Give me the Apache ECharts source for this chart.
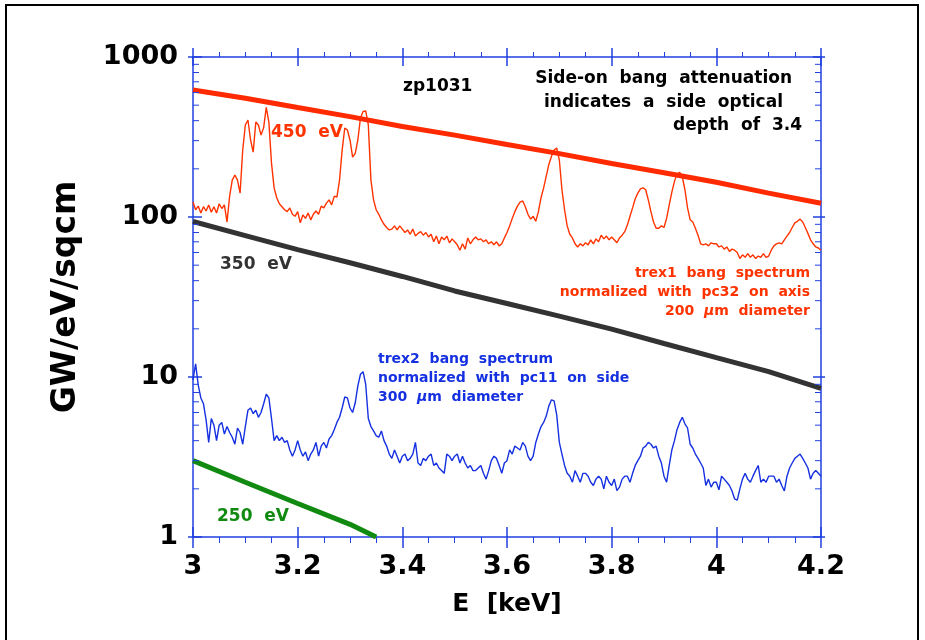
<!DOCTYPE html>
<html><head><meta charset="utf-8">
<script src="https://cdn.jsdelivr.net/npm/echarts@6/dist/echarts.min.js"></script>
<style>html,body{margin:0;padding:0;background:#fff}#c{width:925px;height:640px}</style>
</head><body><div id="c"></div>
<script>
// ---- axes ----
const X_MIN = 3, X_MAX = 4.2, X_INTERVAL = 0.2;
const Y_MIN = 1, Y_MAX = 1000;
const yMinorTicks = [2,3,4,5,6,7,8,9,20,30,40,50,60,70,80,90,200,300,400,500,600,700,800,900];

// ---- measured spectra (energy grid start/step in keV) ----
const specStart = 3.0, specStep = 0.005;
// trex1 bang spectrum, normalized with pc32 on axis (rows of 10 = 0.05 keV)
const trex1 = [
 124,111,117,106,116,109,119,107,116,106,
 121,113,119,93,135,170,183,170,141,262,
 376,404,303,254,392,376,325,362,485,392,
 217,152,132,121,116,111,108,114,104,101,
 108,92,103,98,106,96,104,109,104,117,
 114,122,128,119,135,133,170,262,360,350,
 303,237,250,303,416,457,460,376,170,128,
 111,104,96,90,86,83,84,88,83,88,
 84,80,83,78,84,76,79,81,77,80,
 75,78,70,76,68,75,72,76,69,73,
 70,67,62,68,63,74,68,72,75,72,
 73,70,72,68,70,67,70,66,68,74,
 80,88,98,108,117,124,126,116,104,97,
 101,94,108,132,152,180,213,240,262,270,
 227,148,111,88,78,74,68,65,68,66,
 69,67,72,68,73,70,77,73,76,72,
 75,72,69,74,77,81,89,101,114,130,
 141,150,152,148,128,108,93,85,85,88,
 86,98,119,143,167,186,190,178,148,114,
 96,93,85,77,68,67,68,66,69,68,
 68,65,66,63,65,61,63,62,60,55,
 58,56,59,56,58,55,57,56,59,56,
 57,62,66,68,69,68,72,76,80,86,
 92,94,97,93,86,79,72,68,65,64,
 62
];
// trex2 bang spectrum, normalized with pc11 on side
const trex2 = [
 9.6,12.1,8.9,7.4,6.8,5.4,3.9,5.5,5.0,4.0,
 5.0,5.2,4.4,4.9,4.5,4.2,3.8,4.8,4.5,3.8,
 4.9,6.2,6.4,5.9,6.2,5.6,6.0,6.8,7.8,7.4,
 5.5,4.0,4.3,4.0,4.2,3.9,4.0,3.5,3.2,3.5,
 4.0,3.5,3.2,3.4,3.0,3.3,3.5,3.9,3.2,3.7,
 3.9,3.6,4.1,4.3,4.7,5.2,5.6,6.4,7.5,7.4,
 6.4,6.0,6.9,8.8,10.4,10.8,9.0,5.5,4.9,4.6,
 4.3,4.2,4.6,4.0,3.7,3.3,3.1,3.5,3.2,2.9,
 3.2,3.3,3.0,3.1,3.3,3.9,2.9,2.8,3.1,3.0,
 3.2,3.3,2.8,2.9,2.7,2.6,2.5,3.3,3.2,3.0,
 3.2,3.3,2.9,3.2,2.9,2.7,2.8,2.6,2.6,2.7,
 2.8,2.5,2.3,2.6,3.0,3.2,3.1,2.8,2.5,2.9,
 3.0,3.5,3.3,3.7,3.6,3.5,3.9,3.7,3.2,3.0,
 3.2,3.9,4.4,4.9,5.2,5.7,6.6,7.2,7.1,5.8,
 3.9,3.3,2.8,2.5,2.4,2.2,2.6,2.4,2.2,2.5,
 2.5,2.4,2.2,2.1,2.3,2.4,2.3,2.0,2.4,2.2,
 2.1,2.3,1.95,2.05,2.3,2.4,2.4,2.2,2.5,2.8,
 3.0,3.2,3.6,3.7,3.9,3.8,3.6,3.7,3.2,2.9,
 2.4,2.2,2.8,3.5,4.0,4.7,5.2,5.6,5.1,4.8,
 3.8,3.6,3.3,3.1,2.9,2.7,2.1,2.3,2.05,2.2,
 2.2,1.97,2.4,2.3,2.2,2.1,1.94,1.73,1.70,2.0,
 2.3,2.5,2.3,2.2,2.4,2.6,2.8,2.2,2.3,2.2,
 2.4,2.4,2.4,2.2,2.3,2.1,1.94,2.4,2.7,2.9,
 3.1,3.2,3.3,3.1,2.9,2.7,2.3,2.5,2.6,2.5,
 2.4
];

// ---- Planckian model curves ----
const modelE = [3.0,3.1,3.2,3.3,3.4,3.5,3.6,3.7,3.8,3.9,4.0,4.1,4.2];
const model450 = [622,553,484,424,368,325,284,249,216,189,165,141,122];
const model350 = [93.7,76.5,62.5,51.8,42.5,34.5,28.8,24,19.9,16.2,13.2,10.8,8.5];
const model250E = [3.0,3.1,3.2,3.3,3.35];
const model250 = [3.0,2.2,1.62,1.2,1.0];

// ---- styling ----
const AXIS_BLUE = '#2040e0';
const RED = '#ff3300';
const BLUE = '#1530e0';
const GRAY = '#333333';
const GREEN = '#118a11';
const FF = '"DejaVu Sans", Verdana, sans-serif';

const specPairs = arr => arr.map((v, i) => [+(specStart + i * specStep).toFixed(3), v]);
const zip = (xs, ys) => xs.map((x, i) => [x, ys[i]]);

const baseX = {type:'value', min:X_MIN, max:X_MAX, interval:X_INTERVAL, splitLine:{show:false}};
const baseY = {type:'log', logBase:10, min:Y_MIN, max:Y_MAX, splitLine:{show:false}};

const chart = echarts.init(document.getElementById('c'), null, {renderer:'canvas'});
const ann = (text, x, y, fill, font, align) => ({
  type:'text', x, y, z:100,
  style:{text, fill, font, textAlign:align || 'left', textVerticalAlign:'middle'}
});
const ANN_FONT = 'bold 17px ' + FF;
const SMALL_FONT = 'bold 14px ' + FF;

chart.setOption({
  animation:false,
  backgroundColor:'#ffffff',
  grid:{left:193, right:104, top:57, bottom:103, containLabel:false},
  xAxis:[
    Object.assign({}, baseX, {position:'bottom',
      name:'E  [keV]', nameLocation:'middle', nameGap:55,
      nameTextStyle:{fontFamily:FF, fontSize:25, fontWeight:'bold', color:'#000'},
      axisLine:{show:true, lineStyle:{color:AXIS_BLUE, width:1.5}},
      axisTick:{show:true, inside:false, length:11, lineStyle:{color:AXIS_BLUE, width:1.5}},
      minorTick:{show:true, splitNumber:4, length:6, lineStyle:{color:AXIS_BLUE, width:1}},
      axisLabel:{show:true, margin:16, fontFamily:FF, fontSize:27, fontWeight:'bold', color:'#000'}}),
    Object.assign({}, baseX, {position:'bottom',
      axisLine:{show:false}, axisLabel:{show:false},
      axisTick:{show:true, inside:true, length:10, lineStyle:{color:AXIS_BLUE, width:1.5}}}),
    Object.assign({}, baseX, {position:'top',
      axisLine:{show:true, lineStyle:{color:AXIS_BLUE, width:1.5}}, axisLabel:{show:false},
      axisTick:{show:true, inside:false, length:9, lineStyle:{color:AXIS_BLUE, width:1.5}},
      minorTick:{show:true, splitNumber:4, length:5, lineStyle:{color:AXIS_BLUE, width:1}}}),
    Object.assign({}, baseX, {position:'top',
      axisLine:{show:false}, axisLabel:{show:false},
      axisTick:{show:true, inside:true, length:9, lineStyle:{color:AXIS_BLUE, width:1.5}}})
  ],
  yAxis:[
    Object.assign({}, baseY, {position:'left',
      name:'GW/eV/sqcm', nameLocation:'middle', nameGap:110, nameRotate:90,
      nameTextStyle:{fontFamily:FF, fontSize:33, fontWeight:'bold', color:'#000'},
      axisLine:{show:true, lineStyle:{color:AXIS_BLUE, width:1.5}},
      axisTick:{show:true, inside:false, length:5, lineStyle:{color:AXIS_BLUE, width:1.5}},
      axisLabel:{show:true, margin:15, fontFamily:FF, fontSize:27, fontWeight:'bold', color:'#000',
        formatter: v => String(Math.round(v))}}),
    Object.assign({}, baseY, {position:'left',
      axisLine:{show:false}, axisLabel:{show:false},
      axisTick:{show:true, inside:true, length:9, lineStyle:{color:AXIS_BLUE, width:1.5}}}),
    Object.assign({}, baseY, {position:'right',
      axisLine:{show:true, lineStyle:{color:AXIS_BLUE, width:1.5}}, axisLabel:{show:false},
      axisTick:{show:true, inside:false, length:4, lineStyle:{color:AXIS_BLUE, width:1.5}}}),
    Object.assign({}, baseY, {position:'right',
      axisLine:{show:false}, axisLabel:{show:false},
      axisTick:{show:true, inside:true, length:8, lineStyle:{color:AXIS_BLUE, width:1.5}}})
  ],
  series:[
    {type:'line', name:'trex1', data:specPairs(trex1), showSymbol:false, symbol:'none',
      lineStyle:{color:RED, width:1.4}, z:3},
    {type:'line', name:'trex2', data:specPairs(trex2), showSymbol:false, symbol:'none',
      lineStyle:{color:BLUE, width:1.4}, z:3},
    {type:'line', name:'450 eV', data:zip(modelE, model450), showSymbol:false, symbol:'none',
      lineStyle:{color:'#ff2a00', width:5}, z:4},
    {type:'line', name:'350 eV', data:zip(modelE, model350), showSymbol:false, symbol:'none',
      lineStyle:{color:GRAY, width:5}, z:4},
    {type:'line', name:'250 eV', data:zip(model250E, model250), showSymbol:false, symbol:'none',
      lineStyle:{color:GREEN, width:5}, z:4},
    {type:'custom', name:'minor y ticks', silent:true, clip:false, z:5,
      data: yMinorTicks.map(v => [X_MIN, v]),
      renderItem:(params, api) => {
        const v = yMinorTicks[params.dataIndex];
        const pL = api.coord([X_MIN, v]);
        const pR = api.coord([X_MAX, v]);
        return {type:'group', children:[
          {type:'line', shape:{x1:pL[0], y1:pL[1], x2:pL[0] + 6, y2:pL[1]}, style:{stroke:AXIS_BLUE, lineWidth:1}},
          {type:'line', shape:{x1:pR[0], y1:pR[1], x2:pR[0] - 6, y2:pR[1]}, style:{stroke:AXIS_BLUE, lineWidth:1}}
        ]};
      }}
  ],
  graphic:[
    {type:'rect', shape:{x:6, y:5, width:912, height:645}, style:{fill:'none', stroke:'#000', lineWidth:2}, z:0, silent:true},
    ann('zp1031', 403, 87, '#000', ANN_FONT),
    ann('Side-on  bang  attenuation', 792, 79, '#000', ANN_FONT, 'right'),
    ann('indicates  a  side  optical', 783, 103, '#000', ANN_FONT, 'right'),
    ann('depth  of  3.4', 802, 126, '#000', ANN_FONT, 'right'),
    ann('450  eV', 271, 133, RED, ANN_FONT),
    ann('350  eV', 220, 265, GRAY, ANN_FONT),
    ann('250  eV', 217, 517, GREEN, ANN_FONT),
    ann('trex1  bang  spectrum', 810, 273, RED, SMALL_FONT, 'right'),
    ann('normalized  with  pc32  on  axis', 810, 292, RED, SMALL_FONT, 'right'),
    {type:'text', x:810, y:311, z:100, style:{text:'200  {i|μ}m  diameter', fill:RED, font:SMALL_FONT,
      textAlign:'right', textVerticalAlign:'middle',
      rich:{i:{fontStyle:'italic', fontWeight:'bold', fontSize:14, fontFamily:FF, fill:RED}}}},
    ann('trex2  bang  spectrum', 378, 359, BLUE, SMALL_FONT),
    ann('normalized  with  pc11  on  side', 378, 378, BLUE, SMALL_FONT),
    {type:'text', x:378, y:397, z:100, style:{text:'300  {i|μ}m  diameter', fill:BLUE, font:SMALL_FONT,
      textAlign:'left', textVerticalAlign:'middle',
      rich:{i:{fontStyle:'italic', fontWeight:'bold', fontSize:14, fontFamily:FF, fill:BLUE}}}}
  ]
});
</script></body></html>
